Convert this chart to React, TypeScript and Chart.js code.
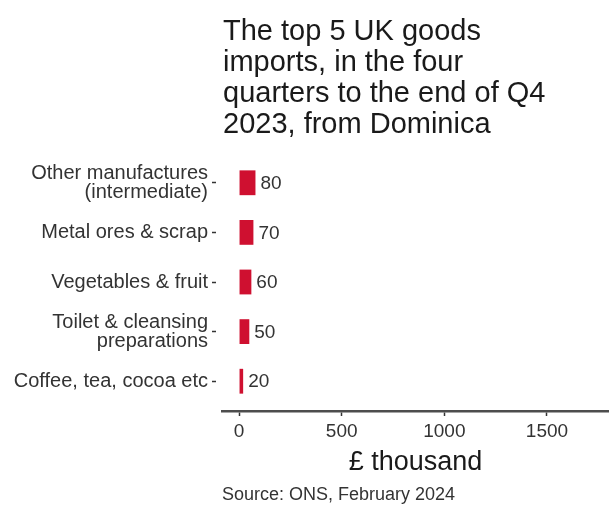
import React, { useEffect, useRef } from "react";
import { Chart, registerables } from "chart.js";

Chart.register(...registerables);

const categories: (string | string[])[] = [
  ["Other manufactures", "(intermediate)"],
  "Metal ores & scrap",
  "Vegetables & fruit",
  ["Toilet & cleansing", "preparations"],
  "Coffee, tea, cocoa etc",
];
const values: number[] = [80, 70, 60, 50, 20];
const xTickValues: number[] = [0, 500, 1000, 1500];
const titleLines: string[] = [
  "The top 5 UK goods",
  "imports, in the four",
  "quarters to the end of Q4",
  "2023, from Dominica",
];
const xAxisTitle = "£ thousand";
const sourceText = "Source: ONS, February 2024";

const FONT = "'Liberation Sans', Arial, sans-serif";

const textPlugin = {
  id: "textPlugin",
  afterDraw(chart: any) {
    const { ctx, chartArea } = chart;
    ctx.save();
    // title
    ctx.fillStyle = "#1a1a1a";
    ctx.font = `29px ${FONT}`;
    ctx.textAlign = "left";
    ctx.textBaseline = "alphabetic";
    titleLines.forEach((line, i) => {
      ctx.fillText(line, chartArea.left + 1, 40 + i * 31);
    });
    // source
    ctx.fillStyle = "#333";
    ctx.font = `18px ${FONT}`;
    ctx.textBaseline = "middle";
    ctx.fillText(sourceText, chartArea.left, 495);
    // value labels
    const meta = chart.getDatasetMeta(0);
    ctx.font = `19px ${FONT}`;
    ctx.fillStyle = "#333";
    ctx.textBaseline = "middle";
    meta.data.forEach((bar: any, i: number) => {
      ctx.fillText(String(values[i]), bar.x + 5, bar.y + 1);
    });
    ctx.restore();
  },
};

export default function App() {
  const ref = useRef<HTMLCanvasElement | null>(null);
  useEffect(() => {
    if (!ref.current) return;
    const chart = new Chart(ref.current, {
      type: "bar",
      data: {
        datasets: [
          {
            data: values.map((v, i) => ({ x: v, y: i })) as any,
            backgroundColor: "#cf1030",
            barPercentage: 0.5,
            categoryPercentage: 1.0,
          },
        ],
      },
      options: {
        indexAxis: "y",
        animation: false,
        responsive: false,
        maintainAspectRatio: false,
        layout: { padding: { top: 153, right: 0, bottom: 0, left: 0 } },
        plugins: {
          legend: { display: false },
          tooltip: { enabled: false },
          title: { display: false },
        },
        scales: {
          x: {
            type: "linear",
            position: "bottom",
            min: -83,
            max: 1802,
            afterBuildTicks: (scale: any) => {
              scale.ticks = xTickValues.map((v) => ({ value: v }));
            },
            afterFit: (scale: any) => {
              scale.height = 97;
            },
            border: { display: true, color: "#4d4d4d", width: 2.5 },
            grid: {
              display: true,
              drawOnChartArea: false,
              drawTicks: true,
              tickLength: 5,
              tickColor: "#333",
              tickWidth: 1.5,
            },
            ticks: {
              color: "#333",
              font: { family: FONT, size: 19 },
              padding: 4,
              maxRotation: 0,
              autoSkip: false,
              callback: (v: any) => String(v),
            },
            title: {
              display: true,
              text: xAxisTitle,
              color: "#1a1a1a",
              font: { family: FONT, size: 27 },
              padding: { top: 0, bottom: 29 },
            },
          },
          y: {
            type: "linear",
            reverse: true,
            offset: false,
            min: -0.6,
            max: 4.6,
            afterBuildTicks: (scale: any) => {
              scale.ticks = categories.map((_, i) => ({ value: i }));
            },
            afterFit: (scale: any) => {
              scale.width = 222;
            },
            border: { display: false },
            grid: {
              display: true,
              offset: false,
              drawOnChartArea: false,
              drawTicks: true,
              tickLength: 10,
              tickColor: "#333",
              tickWidth: 1.5,
              tickBorderDash: [4, 100],
            },
            ticks: {
              color: "#333",
              font: { family: FONT, size: 20, lineHeight: 0.95 },
              padding: 4,
              autoSkip: false,
              callback: (v: any) => categories[v] as any,
            },
          },
        },
      },
      plugins: [textPlugin],
    });
    return () => chart.destroy();
  }, []);
  return (
    <div style={{ position: "absolute", left: 0, top: 0, width: 609, height: 508, background: "#fff" }}>
      <canvas ref={ref} width={609} height={508} style={{ width: 609, height: 508 }} />
    </div>
  );
}
